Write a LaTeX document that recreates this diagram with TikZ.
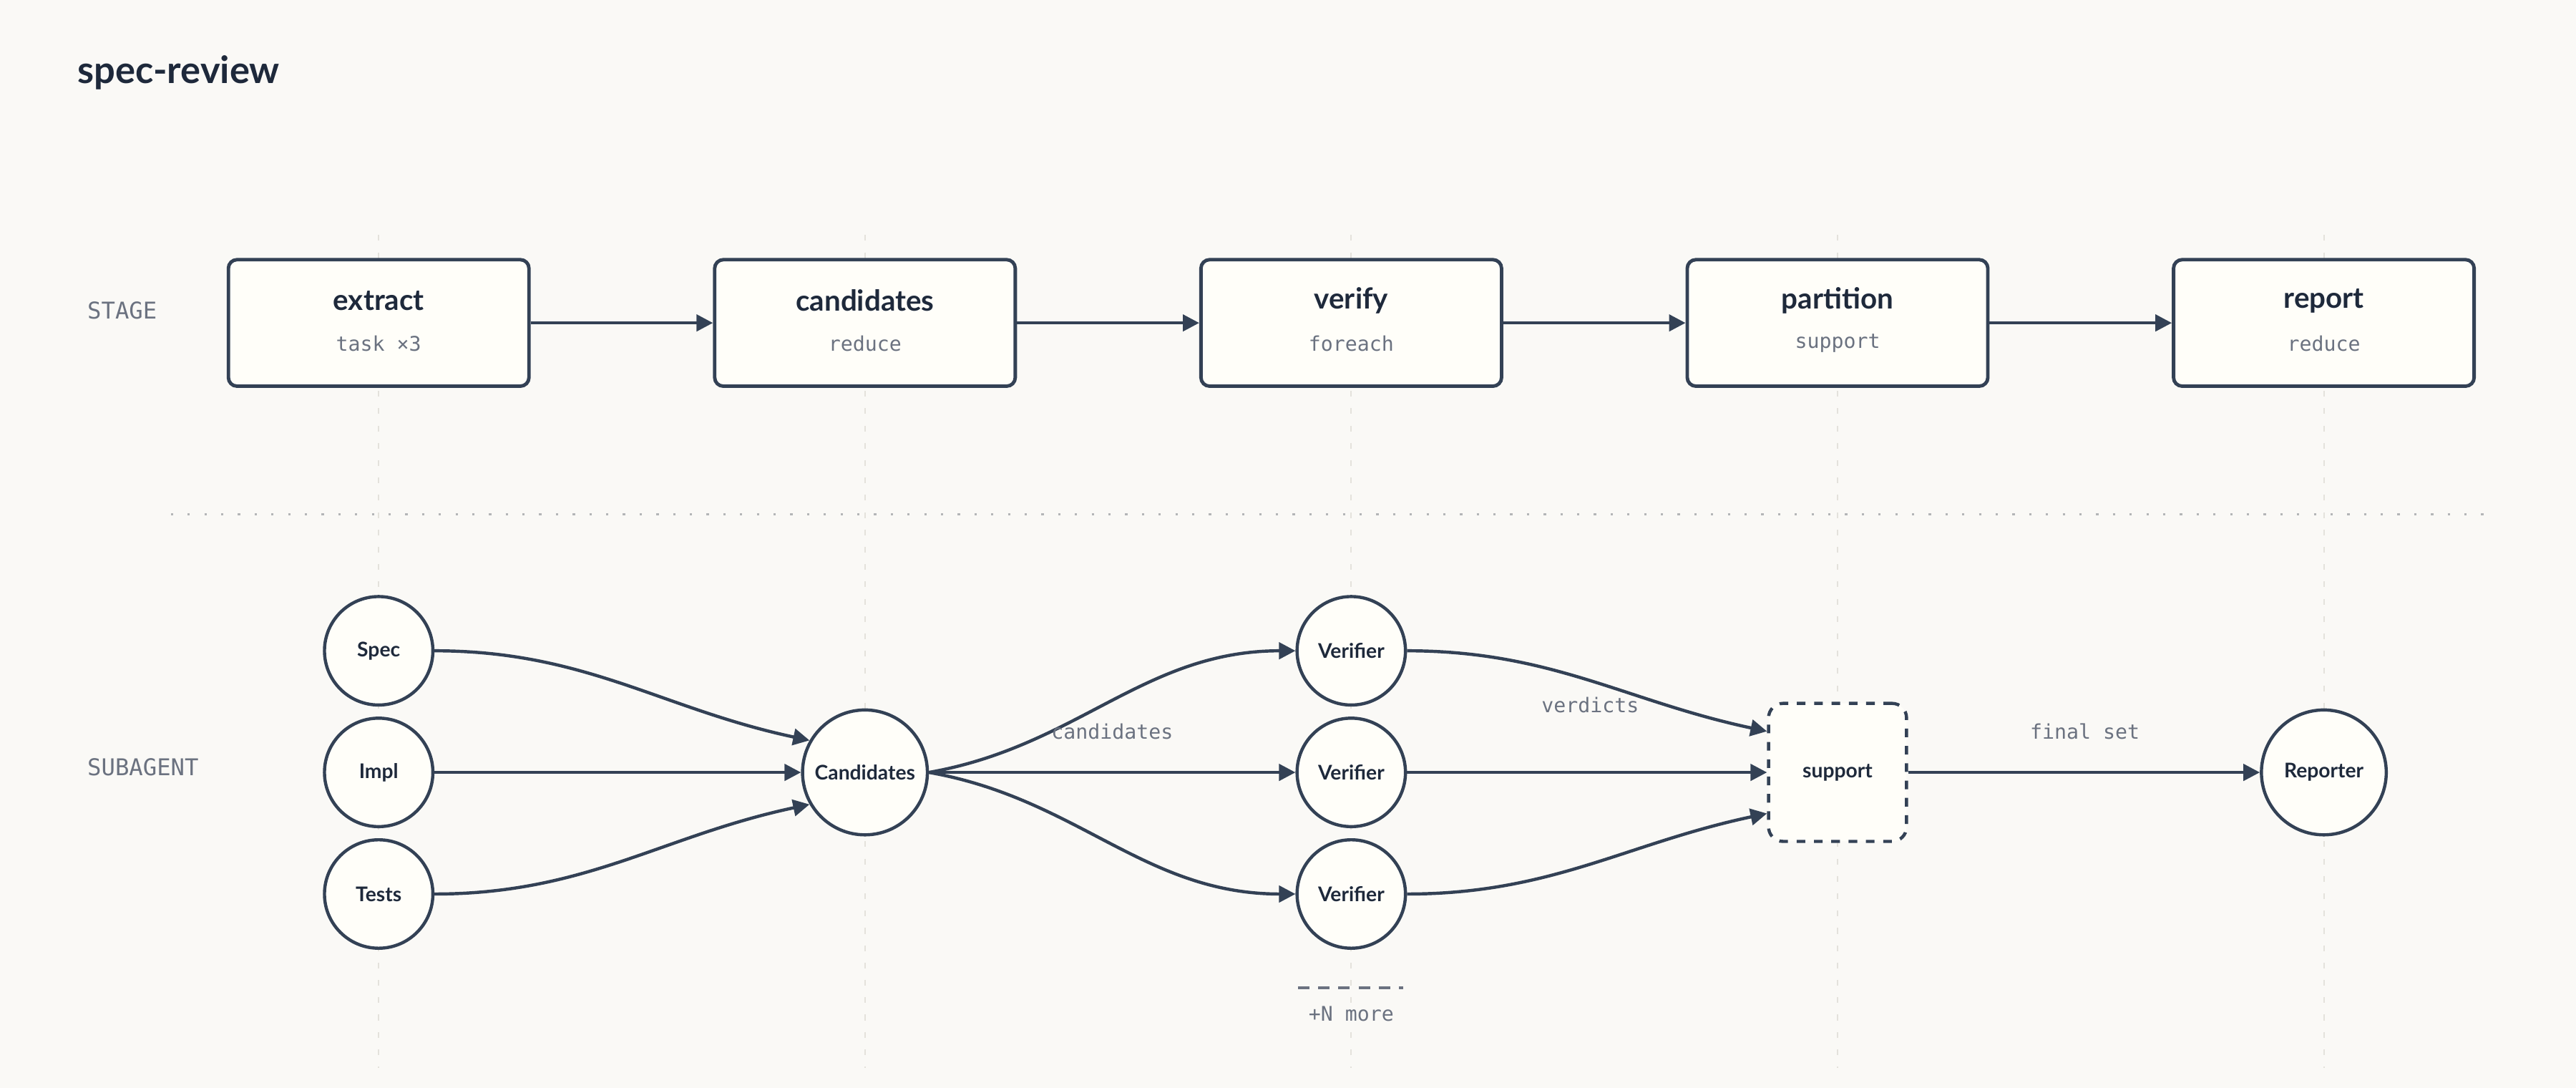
\documentclass[tikz,border=0pt]{standalone}
\usepackage{fontspec}
\setmainfont{Lato}
\newfontfamily\monofont{DejaVu Sans Mono}
\usetikzlibrary{arrows.meta, positioning, shapes}
\definecolor{bgcol}{HTML}{FAF9F6}
\definecolor{fillcol}{HTML}{FFFEF9}
\definecolor{inkcol}{HTML}{334155}
\definecolor{txtcol}{HTML}{1E293B}
\definecolor{mutecol}{HTML}{6B7280}
\definecolor{guidecol}{HTML}{E4E2DC}
\tikzset{
	stage/.style={draw=inkcol, fill=fillcol, line width=1.2pt, rounded corners=3pt, minimum width=3.66cm, minimum height=1.54cm},
	agent/.style={circle, draw=inkcol, fill=fillcol, line width=1.1pt, minimum size=1.32cm, inner sep=0pt, font=\bfseries\fontsize{7}{8}\selectfont, text=txtcol},
	bigagent/.style={agent, minimum size=1.52cm},
	flow/.style={-{Triangle[length=0.2cm, width=0.2cm]}, draw=inkcol, line width=1.1pt},
	mono/.style={font=\monofont\fontsize{7}{8}\selectfont, text=mutecol},
	ttl/.style={font=\bfseries\fontsize{10}{12}\selectfont, text=txtcol}
}
\begin{document}
\begin{tikzpicture}[x=0.02cm, y=-0.02cm]
		% Canvas
		\fill[bgcol] (0,0) rectangle (1568,662);
		\useasboundingbox (0,0) rectangle (1568,662);
		
		% Guides
		\foreach \gx in {230.5, 526.5, 822.5, 1118.5, 1414.5} {
			\draw[guidecol, line width=0.5pt, dash pattern=on 2pt off 4pt] (\gx,143) -- (\gx,650);
		}
		\draw[guidecol!60!mutecol, line width=0.8pt, dash pattern=on 0.8pt off 5pt] (104,313) -- (1516,313);
		
		% Title and rows
		\node[anchor=west, font=\bfseries\fontsize{13}{15}\selectfont, text=txtcol] (title) at (41,44) {spec-review};
		\node[anchor=west, mono, font=\monofont\fontsize{8}{9}\selectfont] (rowstage) at (47,189) {STAGE};
		\node[anchor=west, mono, font=\monofont\fontsize{8}{9}\selectfont] (rowagent) at (47,467) {SUBAGENT};
		
		% Stages
		\foreach \name/\ttl/\sub [count=\i from 0] in {extract/extract/task ×3, cand/candidates/reduce, verify/verify/foreach, part/partition/support, report/report/reduce} {
			\node[stage] (\name) at (230.5+296*\i,196.5) {};
			\node[ttl] at (230.5+296*\i,183) {\ttl};
			\node[mono] at (230.5+296*\i,209) {\sub};
		}
		\draw[flow] (extract) -- (cand);
		\draw[flow] (cand) -- (verify);
		\draw[flow] (verify) -- (part);
		\draw[flow] (part) -- (report);
		
		% Subagents
		\node[agent] (spec) at (230.5,396) {Spec};
		\node[agent] (impl) at (230.5,470) {Impl};
		\node[agent] (tests) at (230.5,544) {Tests};
		\node[bigagent] (cands) at (526.5,470) {Candidates};
		\node[agent] (ver1) at (822.5,396) {Verifier};
		\node[agent] (ver2) at (822.5,470) {Verifier};
		\node[agent] (ver3) at (822.5,544) {Verifier};
		\node[draw=inkcol, fill=fillcol, line width=1.1pt, dashed, rounded corners=5pt, minimum size=1.68cm, font=\bfseries\fontsize{7}{8}\selectfont, text=txtcol] (supp) at (1118.5,470) {support};
		\node[bigagent] (rep) at (1414.5,470) {Reporter};
		
		\draw[flow] (spec.east) to[out=0, in=168] (cands.150);
		\draw[flow] (impl) -- (cands);
		\draw[flow] (tests.east) to[out=0, in=192] (cands.210);
		\draw[flow] (cands.east) to[out=10, in=180] (ver1.west);
		\draw[flow] (cands) -- (ver2);
		\draw[flow] (cands.east) to[out=-10, in=180] (ver3.west);
		\draw[flow] (ver1.east) to[out=0, in=168] ([yshift=0.5cm]supp.west);
		\draw[flow] (ver2) -- (supp);
		\draw[flow] (ver3.east) to[out=0, in=192] ([yshift=-0.5cm]supp.west);
		\draw[flow] (supp) -- (rep);
		
		% Edge labels
		\node[mono] (lcand) at (677,445) {candidates};
		\node[mono] (lverd) at (968,429) {verdicts};
		\node[mono] (lfin) at (1269,445) {final set};
		
		% More marker
		\coordinate (mleft) at (790,601);
		\coordinate (mright) at (854,601);
		\draw[mutecol, line width=1pt, dash pattern=on 4pt off 3pt] (mleft) -- (mright);
		\node[mono] (more) at (822.5,617) {+N more};
	\end{tikzpicture}
\end{document}
